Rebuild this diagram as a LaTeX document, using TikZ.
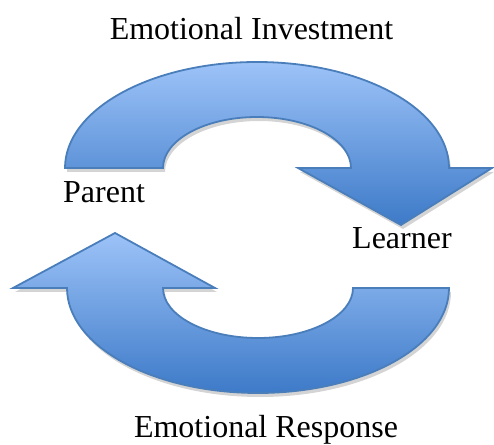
\documentclass[tikz,border=0pt]{standalone}
\usepackage{fontspec}
\setmainfont{Liberation Serif}
\usetikzlibrary{calc}
\definecolor{arrowline}{HTML}{4A7EBB}
\definecolor{arrowtop}{HTML}{9DC3F8}
\definecolor{arrowbottom}{HTML}{3D7AC8}
\definecolor{shadowgray}{HTML}{D4D4D4}
\tikzset{
  x=1pt, y=1pt,
  bentarrow/.style={draw=arrowline, line width=1.8pt, line join=miter,
    top color=arrowtop, bottom color=arrowbottom},
  arrowshadow/.style={fill=shadowgray, draw=none},
  label/.style={inner sep=0pt, font=\fontsize{32}{38}\selectfont, text=black}
}
% outline of the upper bent arrow (Parent -> Learner)
\def\upperpath{(65,276) arc[start angle=180, end angle=0, x radius=192, y radius=106]
  -- (492,276) -- (401,219) -- (298,276) -- (351,276)
  arc[start angle=0, end angle=180, x radius=94, y radius=51] -- cycle}
% outline of the lower bent arrow (Learner -> Parent)
\def\lowerpath{(449,156) arc[start angle=0, end angle=-180, x radius=191, y radius=105]
  -- (13,156) -- (115,211) -- (215,156) -- (163,156)
  arc[start angle=180, end angle=360, x radius=95, y radius=50] -- cycle}
\begin{document}
\begin{tikzpicture}
  \useasboundingbox (0,0) rectangle (494,444);
  % soft drop shadows
  \begin{scope}[shift={(2,-4)}]
    \fill[arrowshadow] \upperpath;
    \fill[arrowshadow] \lowerpath;
  \end{scope}
  % the two arrows
  \path[bentarrow] \upperpath;
  \path[bentarrow] \lowerpath;
  % labels
  \node[label, anchor=base] (invest) at (251.5,404) {Emotional Investment};
  \node[label, anchor=base west] (parent) at (63,241) {Parent};
  \node[label, anchor=base west] (learner) at (352,195) {Learner};
  \node[label, anchor=base] (response) at (266,7) {Emotional Response};
\end{tikzpicture}
\end{document}
